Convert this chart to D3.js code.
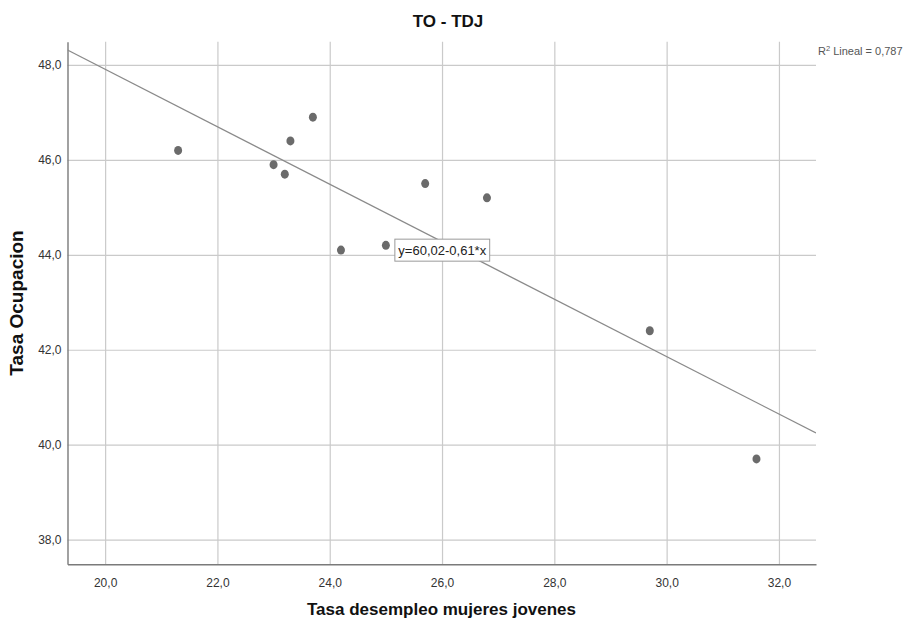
<!DOCTYPE html>
<html>
<head>
<meta charset="utf-8">
<script src="https://cdn.jsdelivr.net/npm/d3@7"></script>
<style>
  html, body { margin: 0; padding: 0; background: #fff; }
  svg { display: block; font-family: "Liberation Sans", Arial, sans-serif; }
</style>
</head>
<body>
<svg id="chart" width="906" height="629"></svg>
<script>
// ---- data ----
const desempleoMujeresJovenes = [21.3, 23.7, 23.3, 23.0, 23.2, 25.7, 26.8, 24.2, 25.0, 29.7, 31.6];
const tasaOcupacion          = [46.2, 46.9, 46.4, 45.9, 45.7, 45.5, 45.2, 44.1, 44.2, 42.4, 39.7];
const xTicks = [20, 22, 24, 26, 28, 30, 32];
const yTicks = [38, 40, 42, 44, 46, 48];
const xDomain = [19.33, 32.66];
const yDomain = [37.48, 48.49];
const chartTitle = "TO - TDJ";
const xTitle = "Tasa desempleo mujeres jovenes";
const yTitle = "Tasa Ocupacion";
const equationText = "y=60,02-0,61*x";
const equationAt = [25.16, 44.33];
const r2Value = "0,787";

// ---- layout ----
const svg = d3.select("#chart");
const pLeft = 67.5, pRight = 816, pTop = 41.7, pBottom = 564.3;

const x = d3.scaleLinear().domain(xDomain).range([pLeft, pRight]);
const y = d3.scaleLinear().domain(yDomain).range([pBottom, pTop]);
const fmt = v => d3.format(".1f")(v).replace(".", ",");

// gridlines
svg.append("g")
  .attr("transform", `translate(0,${pBottom})`)
  .call(d3.axisBottom(x).tickValues(xTicks).tickSize(-(pBottom - pTop)).tickFormat(""))
  .call(g => g.select(".domain").remove())
  .call(g => g.selectAll("line").attr("stroke", "#cacaca").attr("stroke-width", 1.2));
svg.append("g")
  .attr("transform", `translate(${pLeft},0)`)
  .call(d3.axisLeft(y).tickValues(yTicks).tickSize(-(pRight - pLeft)).tickFormat(""))
  .call(g => g.select(".domain").remove())
  .call(g => g.selectAll("line").attr("stroke", "#cacaca").attr("stroke-width", 1.2));

// axes with labels
const xAxis = svg.append("g")
  .attr("transform", `translate(0,${pBottom})`)
  .call(d3.axisBottom(x).tickValues(xTicks).tickSize(0).tickPadding(14).tickFormat(fmt));
xAxis.select(".domain").attr("stroke", "#7a7a7a").attr("stroke-width", 1.4);
xAxis.selectAll("text").attr("font-size", 12).attr("fill", "#333")
  .attr("font-family", "Liberation Sans, Arial, sans-serif");

const yAxis = svg.append("g")
  .attr("transform", `translate(${pLeft},0)`)
  .call(d3.axisLeft(y).tickValues(yTicks).tickSize(0).tickPadding(6).tickFormat(fmt));
yAxis.select(".domain").attr("stroke", "#7a7a7a").attr("stroke-width", 1.4);
yAxis.selectAll("text").attr("font-size", 12).attr("fill", "#333")
  .attr("font-family", "Liberation Sans, Arial, sans-serif");

// least squares fit line
const n = desempleoMujeresJovenes.length;
const mx = d3.mean(desempleoMujeresJovenes), my = d3.mean(tasaOcupacion);
let sxy = 0, sxx = 0;
for (let i = 0; i < n; i++) {
  sxy += (desempleoMujeresJovenes[i] - mx) * (tasaOcupacion[i] - my);
  sxx += (desempleoMujeresJovenes[i] - mx) ** 2;
}
const slope = sxy / sxx, intercept = my - slope * mx;

svg.append("clipPath").attr("id", "plotclip")
  .append("rect").attr("x", pLeft).attr("y", pTop).attr("width", pRight - pLeft).attr("height", pBottom - pTop);

svg.append("line")
  .attr("clip-path", "url(#plotclip)")
  .attr("x1", x(xDomain[0])).attr("y1", y(intercept + slope * xDomain[0]))
  .attr("x2", x(xDomain[1])).attr("y2", y(intercept + slope * xDomain[1]))
  .attr("stroke", "#8a8a8a").attr("stroke-width", 1.3);

// points
svg.append("g").selectAll("ellipse")
  .data(d3.range(n))
  .join("ellipse")
  .attr("cx", i => x(desempleoMujeresJovenes[i]))
  .attr("cy", i => y(tasaOcupacion[i]))
  .attr("rx", 4).attr("ry", 4.5)
  .attr("fill", "#6b6b6b");

// equation label
const eqG = svg.append("g")
  .attr("transform", `translate(${x(equationAt[0])},${y(equationAt[1])})`);
const eqRect = eqG.append("rect").attr("fill", "#fff").attr("stroke", "#9a9a9a").attr("stroke-width", 1);
const eqText = eqG.append("text").attr("x", 3.5).attr("y", 16)
  .attr("font-size", 13).attr("fill", "#222").text(equationText);
const tw = eqText.node().getComputedTextLength();
eqRect.attr("x", 0).attr("y", 0).attr("width", tw + 7).attr("height", 22);

// R2 label
const r2 = svg.append("text").attr("x", pRight + 2).attr("y", 55)
  .attr("font-size", 11).attr("fill", "#555");
r2.append("tspan").text("R");
r2.append("tspan").attr("font-size", 7.5).attr("dy", -4).text("2");
r2.append("tspan").attr("dy", 4).text(" Lineal = " + r2Value);

// titles
svg.append("text").attr("x", 448).attr("y", 27).attr("text-anchor", "middle")
  .attr("font-size", 17).attr("font-weight", "bold").attr("fill", "#111").text(chartTitle);
svg.append("text").attr("x", 441.5).attr("y", 615).attr("text-anchor", "middle")
  .attr("font-size", 17).attr("font-weight", "bold").attr("fill", "#111").text(xTitle);
svg.append("text").attr("transform", `translate(23,303) rotate(-90)`).attr("text-anchor", "middle")
  .attr("font-size", 19).attr("font-weight", "bold").attr("fill", "#111").text(yTitle);
</script>
</body>
</html>
